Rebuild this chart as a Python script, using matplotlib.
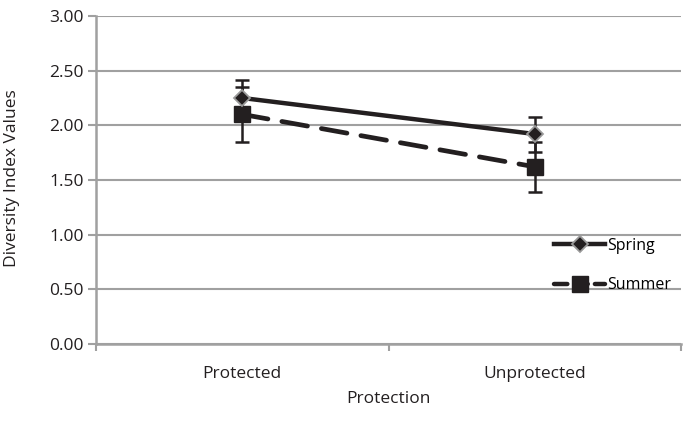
import matplotlib
matplotlib.use("Agg")
import matplotlib.pyplot as plt
from matplotlib.lines import Line2D

# data
categories = ["Protected", "Unprotected"]
spring = [2.25, 1.92]
spring_err = [0.16, 0.16]
summer = [2.10, 1.62]
summer_err = [0.25, 0.23]

plt.rcParams['font.family'] = ['Open Sans', 'DejaVu Sans']
grey = '#a0a0a0'
ink = '#231f20'

fig = plt.figure(figsize=(6.83, 4.21), dpi=100)
ax = fig.add_axes([0.1406, 0.183, 0.857, 0.779])

x = [0.5, 1.5]

ax.errorbar(x, summer, yerr=summer_err, fmt='none', ecolor=ink,
            elinewidth=1.8, capsize=5, capthick=1.8, zorder=3)
ax.errorbar(x, spring, yerr=spring_err, fmt='none', ecolor=ink,
            elinewidth=1.8, capsize=5, capthick=1.8, zorder=3)

ax.plot(x, summer, color=ink, lw=3.4, ls=(0, (5.5, 3.0)), dash_capstyle='round',
        marker='s', ms=11, mfc=ink, mec=ink, zorder=4)
ax.plot(x, spring, color=ink, lw=3.2, ls='-',
        marker='D', ms=8, mfc=ink, mec='#9a9a9a', mew=1.3, zorder=5)

ax.set_xlim(0, 2)
ax.set_ylim(0, 3)
ax.set_yticks([0, 0.5, 1.0, 1.5, 2.0, 2.5, 3.0])
ax.set_yticklabels(["%.2f" % v for v in ax.get_yticks()])
ax.set_xticks([0, 1, 2])
ax.set_xticklabels([])
ax.set_xticks(x, minor=True)
ax.set_xticklabels(categories, minor=True)
ax.tick_params(axis='x', which='minor', length=0, pad=16, labelsize=12.5, colors=ink)
ax.tick_params(axis='x', which='major', length=5, width=1.5, color=grey)
ax.tick_params(axis='y', length=6, width=1.5, color=grey, labelsize=12.5,
               labelcolor=ink, pad=3)

ax.grid(axis='y', color=grey, lw=1.5)
ax.set_axisbelow(True)
for s in ['top', 'right']:
    ax.spines[s].set_visible(False)
for s in ['left', 'bottom']:
    ax.spines[s].set_color(grey)
    ax.spines[s].set_linewidth(1.8)

ax.set_xlabel("Protection", fontsize=12.5, color=ink, labelpad=6)
ax.set_ylabel("Diversity Index Values", fontsize=12.5, color=ink)
ax.yaxis.set_label_coords(-0.13, 0.505)

# legend proxies
h_spring = Line2D([], [], color=ink, lw=3.2, marker='D', ms=8, mfc=ink, mec='#9a9a9a', mew=1.3)
h_summer = Line2D([], [], color=ink, lw=3.2, ls=(0, (3.0, 1.6)), dash_capstyle='round',
                  marker='s', ms=11, mfc=ink, mec=ink)
ax.legend([h_spring, h_summer], ["Spring", "Summer"], loc='upper left',
          bbox_to_anchor=(0.79, 0.47), bbox_transform=fig.transFigure,
          frameon=False, fontsize=11.5, handlelength=3.2, handletextpad=0.1,
          labelspacing=1.5)

fig.savefig("out.png", dpi=100)
